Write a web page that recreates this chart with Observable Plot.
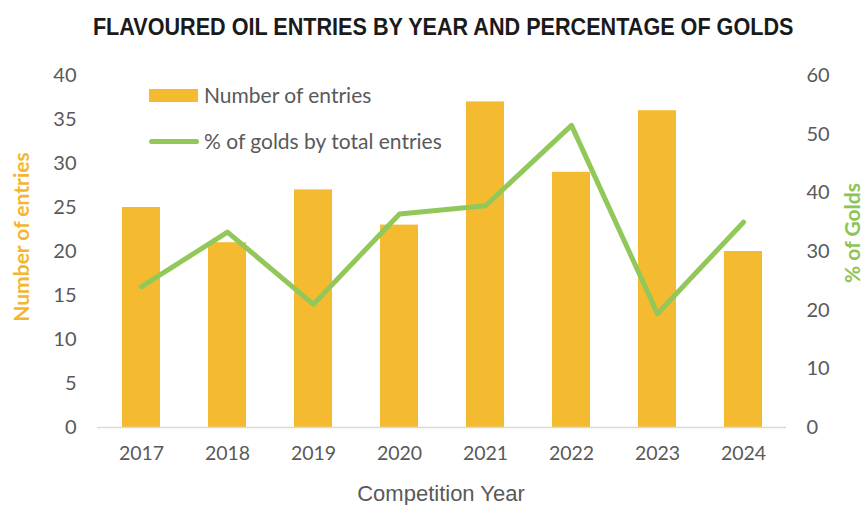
<!DOCTYPE html>
<html>
<head>
<meta charset="utf-8">
<script src="https://cdn.jsdelivr.net/npm/d3@7"></script>
<script src="https://cdn.jsdelivr.net/npm/@observablehq/plot@0.6"></script>
<style>
  html, body { margin: 0; padding: 0; background: #fff; }
  #wrap { position: relative; width: 864px; height: 505px; overflow: hidden; }
  #title { position: absolute; left: 0; top: 13px; width: 864px; text-align: center;
    font-family: "Liberation Sans", Arial, sans-serif; font-weight: bold; font-size: 24px; color: #1a1a1a; }
  #title span { display: inline-block; transform: scaleX(0.9); transform-origin: center; margin-left: 22px; }
  #chart { position: absolute; left: 0; top: 55px; }
  .leg { position: absolute; font-family: Lato, "Open Sans", sans-serif; font-size: 21px; color: #595959; }
</style>
</head>
<body>
<div id="wrap">
  <div id="title"><span>FLAVOURED OIL ENTRIES BY YEAR AND PERCENTAGE OF GOLDS</span></div>
  <div id="chart"></div>
  <div class="leg" style="left:149px;top:89px;width:49px;height:13px;background:#F4BB30"></div>
  <div class="leg" style="left:204px;top:82px;line-height:26px">Number of entries</div>
  <div class="leg" style="left:149px;top:138.5px;width:50px;height:5px;border-radius:3px;background:#92C85A"></div>
  <div class="leg" style="left:204px;top:128px;line-height:26px">% of golds by total entries</div>
</div>
<script>
const years = ["2017", "2018", "2019", "2020", "2021", "2022", "2023", "2024"];
const entries = [25, 21, 27, 23, 37, 29, 36, 20];
const goldPct = [24, 33.3, 21, 36.4, 37.8, 51.5, 19.4, 35];
const entryTicks = [0, 5, 10, 15, 20, 25, 30, 35, 40];
const pctTicks = [0, 10, 20, 30, 40, 50, 60];

const barColor = "#F4BB30";
const lineColor = "#92C85A";
const k = 40 / 60; // percent -> entries scale

const data = years.map((y, i) => ({year: y, entries: entries[i], pct: goldPct[i]}));

const chart = Plot.plot({
  width: 864,
  height: 450,
  marginLeft: 97,
  marginRight: 78,
  marginTop: 20,
  marginBottom: 78,
  x: {domain: years, paddingInner: 0.56, paddingOuter: 0.28, axis: null},
  y: {domain: [0, 40], axis: null},
  marks: [
    Plot.barY(data, {x: "year", y: "entries", fill: barColor}),
    Plot.ruleY([0], {stroke: "#d9d9d9", strokeWidth: 1.5}),
    Plot.line(data, {x: "year", y: d => d.pct * k, stroke: lineColor, strokeWidth: 5,
      strokeLinecap: "round", strokeLinejoin: "round"}),
    Plot.axisX({tickSize: 0, tickPadding: 19, fontSize: 19.5, fontFamily: "Lato, sans-serif",
      color: "#595959", label: null}),
    Plot.axisY(entryTicks, {anchor: "left", tickSize: 0, tickPadding: 21, fontSize: 20,
      fontFamily: "Lato, sans-serif", color: "#595959", label: null}),
    Plot.axisY(pctTicks.map(p => p * k), {anchor: "right", tickSize: 0, tickPadding: 20,
      fontSize: 20, fontFamily: "Lato, sans-serif", color: "#595959", label: null,
      tickFormat: d => String(Math.round(d / k))})
  ]
});
document.getElementById("chart").appendChild(chart);

const svg = d3.select(chart);
svg.append("text")
  .attr("transform", "translate(20,182) rotate(-90)")
  .attr("text-anchor", "middle").attr("dominant-baseline", "central")
  .attr("font-family", "Lato, sans-serif").attr("font-weight", "bold").attr("font-size", 21)
  .attr("fill", "#F4B630").text("Number of entries");
svg.append("text")
  .attr("transform", "translate(851,178) rotate(-90)")
  .attr("text-anchor", "middle").attr("dominant-baseline", "central")
  .attr("font-family", "Lato, sans-serif").attr("font-weight", "bold").attr("font-size", 21)
  .attr("fill", "#8DC453").text("% of Golds");
svg.append("text")
  .attr("x", 441).attr("y", 438)
  .attr("text-anchor", "middle").attr("dominant-baseline", "central")
  .attr("font-family", "'Liberation Sans', Arial, sans-serif").attr("font-size", 22)
  .attr("fill", "#595959").text("Competition Year");
</script>
</body>
</html>
